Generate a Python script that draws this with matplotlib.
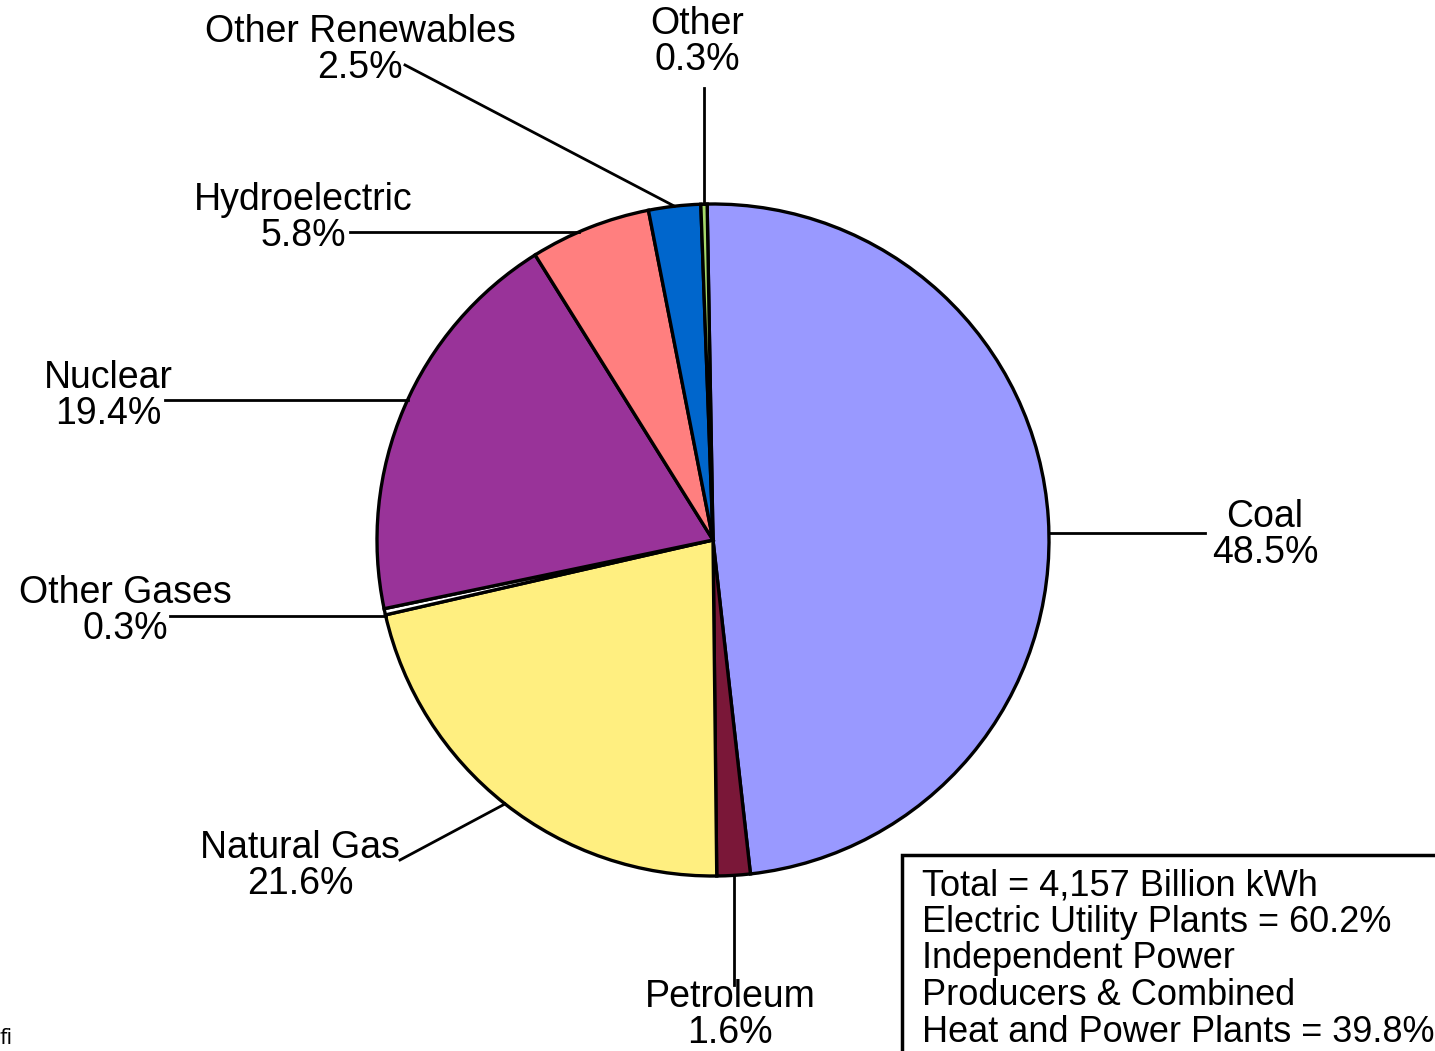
import numpy as np
import matplotlib
matplotlib.use('Agg')
import matplotlib.pyplot as plt
from matplotlib.patches import Rectangle

plt.rcParams['font.family'] = ['Liberation Sans', 'DejaVu Sans']

# data
sources = ['Coal', 'Petroleum', 'Natural Gas', 'Other Gases', 'Nuclear',
           'Hydroelectric', 'Other Renewables', 'Other']
shares = [48.5, 1.6, 21.6, 0.3, 19.4, 5.8, 2.5, 0.3]
colors = ['#9999FF', '#7A1738', '#FFEF80', '#FFFFFF', '#993399',
          '#FF7F7F', '#0066CC', '#A6D96A']
box_lines = ['Total = 4,157 Billion kWh',
             'Electric Utility Plants = 60.2%',
             'Independent Power',
             'Producers & Combined',
             'Heat and Power Plants = 39.8%']

W, H = 1435, 1051
def P(x, y):
    # pixel position (y from top) -> axes data
    return x, H - y

cx, cy, r = 713, 540, 336

# label layout (pixel coords): text centre, leader kind and leader end
label_xy = [(1265, 535), (730, 1015), (300, 866), (125, 611), (108, 396),
            (303, 218), (360, 50), (697, 42)]
leaders = [('h', 533, 1205), ('v', None, 985), ('mid', 400, 860),
           ('h', 616, 170), ('h', 400, 165), ('h', 232, 350),
           ('mid', 405, 65), ('v', None, 88)]

fig = plt.figure(figsize=(W / 100, H / 100), dpi=100)
ax = fig.add_axes([0, 0, 1, 1])

wedges, _ = ax.pie(shares, colors=colors, startangle=91, counterclock=False,
                   center=P(cx, cy), radius=r, frame=True,
                   wedgeprops=dict(edgecolor='black', linewidth=2.4))
ax.set_xlim(0, W)
ax.set_ylim(0, H)
ax.axis('off')

for w, name, val, txy, (kind, a, b) in zip(wedges, sources, shares, label_xy, leaders):
    ang = np.deg2rad((w.theta1 + w.theta2) / 2)
    mx = cx + r * np.cos(ang)
    my = cy - r * np.sin(ang)
    if kind == 'h':
        side = np.sign(mx - cx)
        sx, sy = cx + side * np.sqrt(r ** 2 - (a - cy) ** 2), a
        ex, ey = b, a
    elif kind == 'v':
        sx, sy = mx, my
        ex, ey = mx, b
    else:
        sx, sy = mx, my
        ex, ey = a, b
    ax.plot(*zip(P(sx, sy), P(ex, ey)), color='black', lw=2, zorder=1)
    tx, ty = P(*txy)
    ax.text(tx, ty, f'{name}\n{val}%', ha='center', va='center', fontsize=27,
            linespacing=1.0)

ax.add_patch(Rectangle(P(902, 1060), 600, 205, facecolor='white',
                       edgecolor='black', lw=2.5, zorder=3))
bx, by = P(922, 959)
ax.text(bx, by, '\n'.join(box_lines), ha='left', va='center', fontsize=26,
        linespacing=1.06, zorder=4)

ax.text(0, H - 1038, 'fi', fontsize=16, family='Open Sans', va='center')

fig.savefig('out.png', dpi=100)
